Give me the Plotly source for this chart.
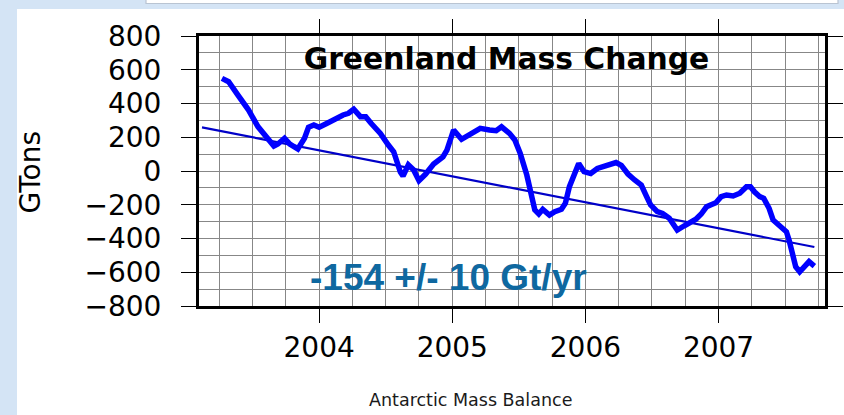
import plotly.graph_objects as go

# Greenland ice mass anomaly (GTons) by decimal year
YEARS = [
    2003.27, 2003.32, 2003.39, 2003.47, 2003.54, 2003.61, 2003.66, 2003.69, 2003.74, 2003.78,
    2003.84, 2003.89, 2003.92, 2003.96, 2004.00, 2004.06, 2004.10, 2004.18, 2004.22, 2004.26,
    2004.31, 2004.35, 2004.39, 2004.46, 2004.52, 2004.56, 2004.61, 2004.63, 2004.67, 2004.71,
    2004.75, 2004.80, 2004.86, 2004.93, 2004.96, 2005.01, 2005.07, 2005.13, 2005.21, 2005.28,
    2005.33, 2005.37, 2005.43, 2005.47, 2005.51, 2005.56, 2005.59, 2005.62, 2005.65, 2005.68,
    2005.73, 2005.77, 2005.82, 2005.85, 2005.88, 2005.92, 2005.95, 2005.99, 2006.04, 2006.09,
    2006.14, 2006.19, 2006.23, 2006.27, 2006.32, 2006.37, 2006.42, 2006.46, 2006.49, 2006.54,
    2006.58, 2006.63, 2006.67, 2006.69, 2006.74, 2006.78, 2006.83, 2006.87, 2006.91, 2006.94,
    2006.98, 2007.02, 2007.06, 2007.11, 2007.16, 2007.21, 2007.24, 2007.27, 2007.31, 2007.34,
    2007.38, 2007.41, 2007.46, 2007.51, 2007.53, 2007.56, 2007.58, 2007.61, 2007.64, 2007.68,
    2007.72,
]
MASS = [
    549, 529, 450, 361, 263, 194, 148, 160, 194, 160,
    130, 194, 259, 273, 259, 283, 302, 332, 342, 366,
    322, 322, 283, 223, 154, 114, -6, -30, 36, 6,
    -57, -18, 41, 83, 124, 243, 188, 213, 253, 243,
    239, 262, 223, 184, 105, -24, -132, -231, -255, -227,
    -261, -241, -227, -191, -93, -6, 44, -4, -15, 15,
    25, 36, 50, 33, -18, -53, -83, -152, -201, -241,
    -251, -280, -330, -350, -326, -306, -286, -255, -212, -201,
    -188, -152, -142, -148, -132, -93, -93, -123, -152, -162,
    -221, -290, -320, -360, -409, -488, -567, -597, -567, -537,
    -563,
]

# Linear trend: rate in Gt/yr, anchored at a reference epoch
TREND_RATE = -154
TREND_ERR = 10
TREND_REF_YEAR = 2005.42
TREND_REF_VALUE = -96
TREND_SPAN = [2003.12, 2007.72]

X_TICKS = [2004, 2005, 2006, 2007]
Y_TICKS = [-800, -600, -400, -200, 0, 200, 400, 600, 800]

trend_y = [TREND_REF_VALUE + TREND_RATE * (yr - TREND_REF_YEAR) for yr in TREND_SPAN]

W, H = 844, 415
ML, MR, MT, MB = 199, 19, 36, 109
PW, PH = W - ML - MR, H - MT - MB


def px_x(p):
    return (p - ML) / PW


def px_y(p):
    return 1 - (p - MT) / PH


GRID = "rgb(135,135,135)"
TICKFONT = dict(family="DejaVu Sans", size=28, color="black")

fig = go.Figure()
fig.add_trace(go.Scatter(
    x=TREND_SPAN, y=trend_y, mode="lines",
    line=dict(color="#0000c8", width=2.2), hoverinfo="skip",
))
fig.add_trace(go.Scatter(
    x=YEARS, y=MASS, mode="lines",
    line=dict(color="#0000ff", width=5.5, shape="linear"),
))

fig.update_xaxes(
    range=[2003.0975, 2007.80],
    tickvals=X_TICKS, ticktext=[str(v) for v in X_TICKS],
    ticks="outside", ticklen=14, tickwidth=1.2, tickcolor="black",
    showline=True, linewidth=3, linecolor="black", mirror="allticks",
    showgrid=True, gridcolor=GRID, gridwidth=1.2,
    minor=dict(dtick=0.25, tick0=2003, showgrid=True, gridcolor=GRID, gridwidth=1.2, ticks=""),
    zeroline=False, tickfont=TICKFONT, ticklabelstandoff=0, automargin=False,
)
fig.update_yaxes(
    range=[-800, 800],
    tickvals=Y_TICKS,
    ticks="outside", ticklen=15, tickwidth=1.2, tickcolor="black",
    showline=True, linewidth=3, linecolor="black", mirror="allticks",
    showgrid=True, gridcolor=GRID, gridwidth=1.2,
    minor=dict(dtick=100, tick0=0, showgrid=True, gridcolor=GRID, gridwidth=1.2, ticks=""),
    zeroline=False, tickfont=TICKFONT, ticklabelstandoff=14, automargin=False,
)

shapes = [
    # white slide area
    dict(type="rect", xref="paper", yref="paper", layer="below",
         x0=px_x(17), x1=px_x(W + 5), y0=px_y(H + 5), y1=px_y(9),
         fillcolor="white", line=dict(width=0)),
    # header box strip
    dict(type="rect", xref="paper", yref="paper", layer="below",
         x0=px_x(146), x1=px_x(838), y0=px_y(3.5), y1=px_y(-5),
         fillcolor="white", line=dict(color="rgb(185,196,210)", width=1.2)),
]

annotations = [
    dict(text=f"{TREND_RATE} +/- {TREND_ERR} Gt/yr", xref="paper", yref="paper",
         x=px_x(448.5), y=px_y(277), xanchor="center", yanchor="middle", showarrow=False,
         font=dict(family="Liberation Sans", size=37, color="#0f68a0", weight="bold")),
    dict(text="GTons", xref="paper", yref="paper", textangle=-90,
         x=px_x(30), y=px_y(172.5), xanchor="center", yanchor="middle", showarrow=False,
         font=dict(family="DejaVu Sans", size=28, color="black")),
    dict(text="Antarctic Mass Balance", xref="paper", yref="paper",
         x=px_x(470), y=px_y(400), xanchor="center", yanchor="middle", showarrow=False,
         font=dict(family="DejaVu Sans", size=17.5, color="#1a1a1a")),
]

fig.update_layout(
    width=W, height=H,
    margin=dict(l=ML, r=MR, t=MT, b=MB, pad=0, autoexpand=False),
    paper_bgcolor="rgb(212,228,245)",
    plot_bgcolor="white",
    showlegend=False,
    title=dict(text="Greenland Mass Change", xref="paper", yref="paper",
               x=px_x(506.5), y=px_y(58.5), xanchor="center", yanchor="middle",
               font=dict(family="DejaVu Sans", size=29.8, color="black", weight="bold")),
    shapes=shapes,
    annotations=annotations,
)

fig.write_html("out.html")
